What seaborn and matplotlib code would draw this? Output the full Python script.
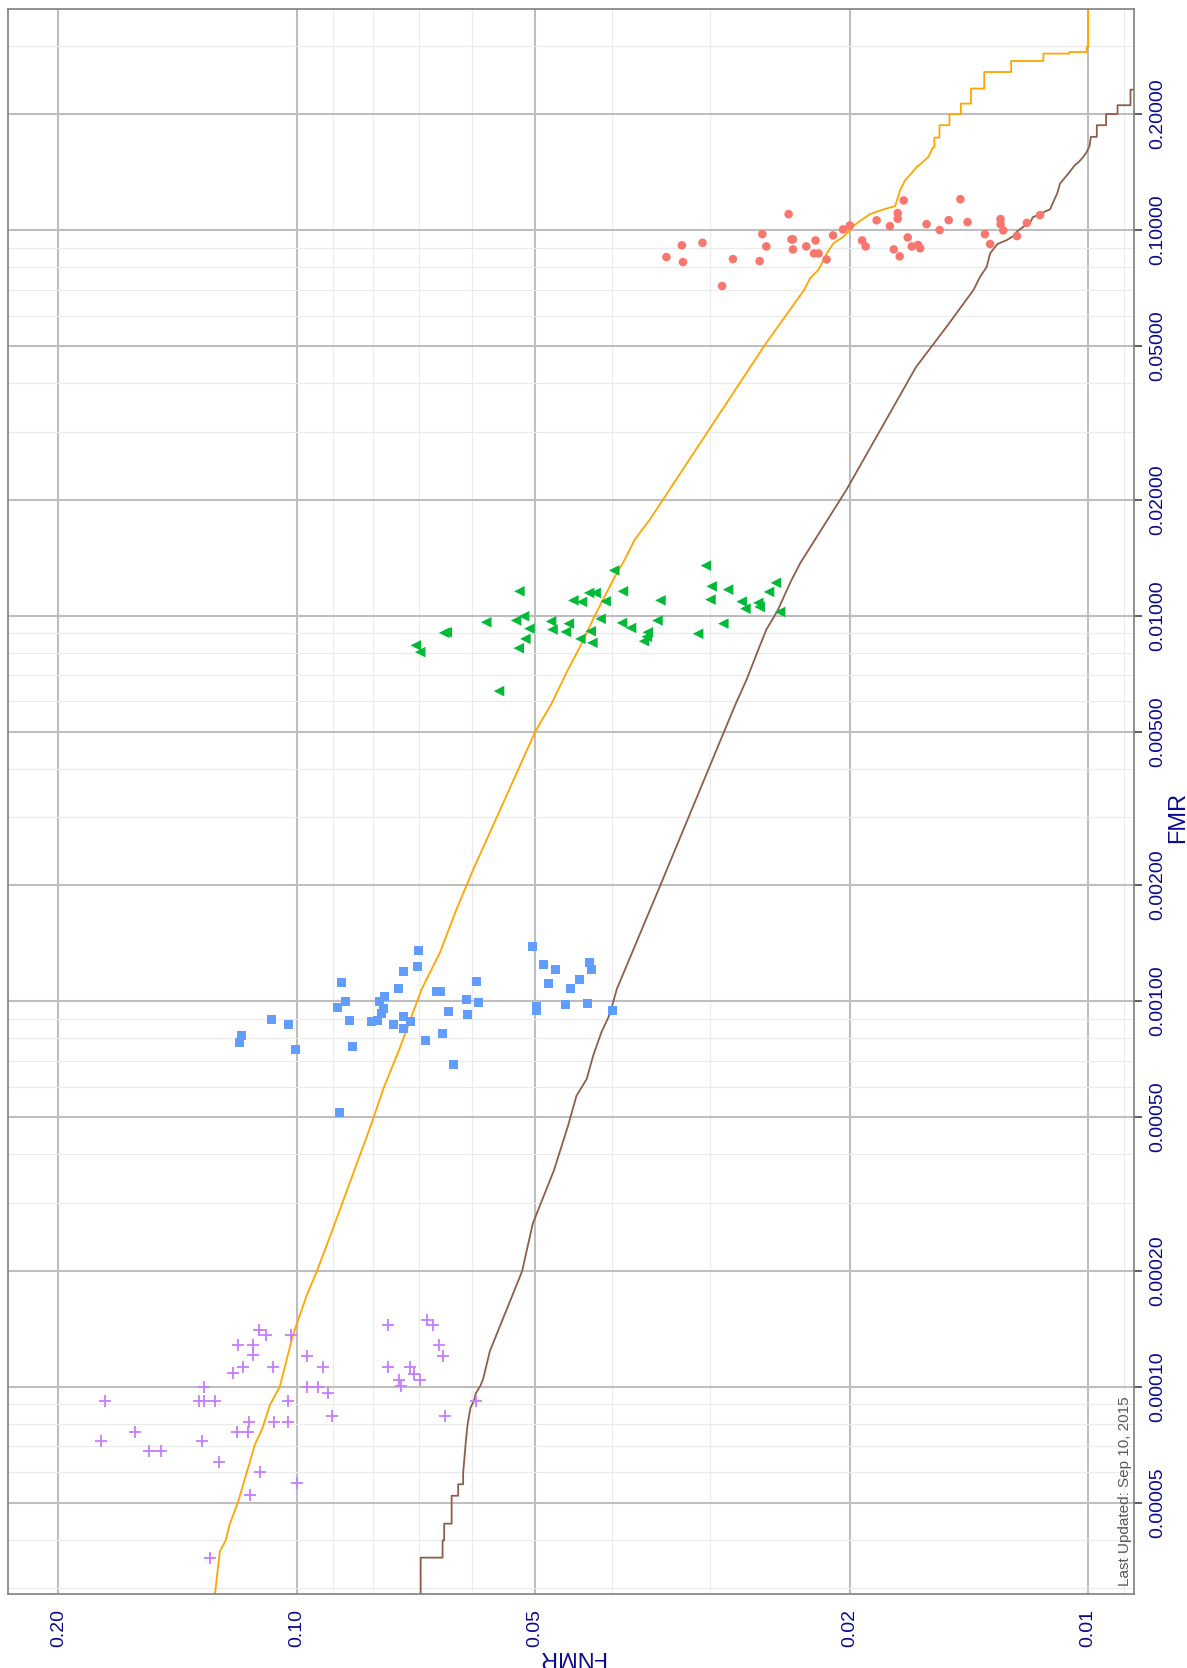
import pandas as pd
import numpy as np
import matplotlib
matplotlib.use("Agg")
import matplotlib.pyplot as plt
import seaborn as sns
from matplotlib.ticker import NullFormatter

# ==============================================================================
# DATA
# ==============================================================================
red_fnmr = [0.0341, 0.0326, 0.0325, 0.0307, 0.0290, 0.0281, 0.0260, 0.0258, 0.0255, 0.0239,
            0.0237, 0.0236, 0.0236, 0.0227, 0.0221, 0.0222, 0.0219, 0.0214, 0.0210, 0.0204,
            0.0200, 0.0193, 0.0191, 0.0185, 0.0178, 0.0176, 0.0174, 0.0174, 0.0171, 0.0173,
            0.0169, 0.0167, 0.0164, 0.0163, 0.0160, 0.0154, 0.0150, 0.0145, 0.0142, 0.0135,
            0.0133, 0.0129, 0.0129, 0.0128, 0.0123, 0.0115, 0.01195]
red_fmr = [0.0851, 0.0913, 0.0826, 0.0927, 0.0716, 0.0841, 0.0831, 0.0976, 0.0907, 0.110,
           0.0946, 0.0946, 0.0891, 0.0907, 0.0940, 0.0870, 0.0870, 0.0839, 0.0969, 0.1004,
           0.1028, 0.0940, 0.0907, 0.106, 0.1024, 0.0891, 0.1107, 0.107, 0.1194, 0.0855,
           0.0957, 0.0907, 0.0915, 0.0897, 0.1036, 0.1000, 0.1061, 0.1203, 0.1049, 0.0976,
           0.0920, 0.1068, 0.1036, 0.0998, 0.0965, 0.1094, 0.1044]

green_fnmr = [0.0576, 0.0528, 0.0516, 0.0523, 0.0508, 0.0514, 0.0524, 0.0555, 0.0477, 0.0475,
              0.0457, 0.0453, 0.0447, 0.0436, 0.0427, 0.0419, 0.0407, 0.0397, 0.0387, 0.0413,
              0.0425, 0.0438, 0.0423, 0.0388, 0.0378, 0.0360, 0.0361, 0.0364, 0.0350, 0.0347,
              0.0311, 0.0304, 0.0299, 0.0300, 0.0285, 0.0289, 0.0274, 0.0271, 0.0261, 0.0260,
              0.0253, 0.0248, 0.0245, 0.0707, 0.0698, 0.0651, 0.0646]
green_fmr = [0.00961, 0.00971, 0.00996, 0.01156, 0.00925, 0.00870, 0.00823, 0.00637, 0.00966, 0.00920,
             0.00907, 0.00953, 0.01095, 0.01085, 0.01145, 0.01145, 0.01089, 0.01310, 0.01156, 0.00981,
             0.00911, 0.00870, 0.00850, 0.00957, 0.00929, 0.00905, 0.00881, 0.00858, 0.00971, 0.01095,
             0.00897, 0.01348, 0.01191, 0.01100, 0.01168, 0.00953, 0.01087, 0.01042, 0.01079, 0.01053,
             0.01152, 0.01216, 0.01022, 0.00837, 0.00804, 0.00902, 0.00905]

blue_fnmr = [0.1181, 0.1175, 0.1076, 0.1024, 0.1004, 0.0878, 0.0868, 0.0887, 0.0858, 0.0851,
             0.0804, 0.0791, 0.0786, 0.0775, 0.0777, 0.0782, 0.0755, 0.0744, 0.0733, 0.0733,
             0.0733, 0.0718, 0.0704, 0.0702, 0.0688, 0.0665, 0.0658, 0.0643, 0.0654, 0.0610,
             0.0609, 0.0593, 0.0589, 0.0504, 0.0488, 0.0498, 0.0498, 0.0481, 0.0471, 0.0458,
             0.0451, 0.0439, 0.0429, 0.0427, 0.0424, 0.0399, 0.0883, 0.0634]
blue_fmr = [0.000782, 0.000815, 0.000897, 0.000872, 0.000750, 0.001118, 0.000998, 0.000963, 0.000891, 0.000763,
            0.000886, 0.000891, 0.000998, 0.001028, 0.000957, 0.000929, 0.000872, 0.001079, 0.001194, 0.000914,
            0.000850, 0.000886, 0.001230, 0.001353, 0.000791, 0.001059, 0.001059, 0.000940, 0.000825, 0.001010,
            0.000924, 0.001125, 0.000992, 0.001386, 0.001245, 0.000969, 0.000946, 0.001111, 0.001208, 0.000981,
            0.001079, 0.001138, 0.000986, 0.001260, 0.001210, 0.000948, 0.000515, 0.000683]

purple_fnmr = [0.1746, 0.1327, 0.1308, 0.1308, 0.1267, 0.1204, 0.1170, 0.1185, 0.1136, 0.1134,
               0.1115, 0.1093, 0.1072, 0.1017, 0.1026, 0.1148, 0.1067, 0.1026, 0.0969, 0.0969,
               0.0941, 0.0926, 0.0912, 0.0903, 0.0767, 0.0767, 0.0742, 0.0739, 0.0719, 0.0710,
               0.0698, 0.0685, 0.0672, 0.0660, 0.0654, 0.0649, 0.1602, 0.1765, 0.1538, 0.1485,
               0.1317, 0.1254, 0.1191, 0.1152, 0.1112, 0.1145, 0.1000, 0.1288, 0.0594]
purple_fmr = [9.20e-5, 9.20e-5, 9.20e-5, 1.00e-4, 9.20e-5, 1.083e-4, 1.122e-4, 1.279e-4, 1.279e-4, 1.205e-4,
              1.405e-4, 1.358e-4, 1.122e-4, 1.358e-4, 9.20e-5, 8.07e-5, 8.07e-5, 8.07e-5, 1.203e-4, 1.00e-4,
              1.00e-4, 1.122e-4, 9.61e-5, 8.40e-5, 1.442e-4, 1.122e-4, 1.038e-4, 1.004e-4, 1.122e-4, 1.079e-4,
              1.038e-4, 1.486e-4, 1.442e-4, 1.279e-4, 1.203e-4, 8.40e-5, 7.61e-5, 7.22e-5, 6.81e-5, 6.81e-5,
              7.22e-5, 6.39e-5, 7.61e-5, 7.61e-5, 5.99e-5, 5.22e-5, 5.61e-5, 3.59e-5, 9.20e-5]

# DET curves (vertices)
orange_fnmr = [0.1270, 0.1250, 0.1229, 0.1215, 0.1186, 0.1162, 0.1147, 0.1130, 0.1105, 0.1081,
               0.1050, 0.1011, 0.0971, 0.0942, 0.0900, 0.0806, 0.0777, 0.0740, 0.0695, 0.0659,
               0.0628, 0.0598, 0.0499, 0.0477, 0.0454, 0.0438, 0.0420, 0.0398, 0.0385, 0.0374,
               0.0358, 0.0256, 0.02285, 0.02245, 0.02192, 0.02170, 0.02139, 0.02098, 0.02038, 0.02003,
               0.01980, 0.01941, 0.01886, 0.01835, 0.01796, 0.01753, 0.01728, 0.01703, 0.01670, 0.01646,
               0.01622, 0.01591, 0.01571, 0.01564, 0.01564, 0.01541, 0.01541, 0.01497, 0.01497, 0.01448,
               0.01448, 0.01406, 0.01406, 0.01353, 0.01353, 0.01251, 0.01251, 0.01139, 0.01139, 0.01056,
               0.01056, 0.01004, 0.01004, 0.0100, 0.0100]
orange_fmr = [2.82e-5, 3.74e-5, 3.99e-5, 4.39e-5, 5.01e-5, 5.78e-5, 6.32e-5, 7.05e-5, 7.78e-5, 8.95e-5,
              1.0e-4, 1.358e-4, 1.724e-4, 2.0e-4, 2.566e-4, 4.75e-4, 5.92e-4, 7.59e-4, 1.074e-3, 1.337e-3,
              1.731e-3, 2.198e-3, 5.02e-3, 5.88e-3, 7.25e-3, 8.33e-3, 0.0100, 0.0124, 0.01397, 0.01573,
              0.01773, 0.0504, 0.0699, 0.0750, 0.0788, 0.0820, 0.0870, 0.0924, 0.0961, 0.0996,
              0.1024, 0.1057, 0.1100, 0.1122, 0.1138, 0.1154, 0.1269, 0.1347, 0.1407, 0.1459,
              0.1494, 0.1549, 0.1638, 0.1638, 0.1738, 0.1738, 0.1871, 0.1871, 0.1998, 0.1998,
              0.2129, 0.2129, 0.2329, 0.2329, 0.2571, 0.2571, 0.2746, 0.2746, 0.2870, 0.2870,
              0.2897, 0.2897, 0.2985, 0.2985, 1.0]

brown_fnmr = [0.0697, 0.0697, 0.0654, 0.0654, 0.0651, 0.0651, 0.0637, 0.0637, 0.0625, 0.0625,
              0.0616, 0.0616, 0.0614, 0.0611, 0.0608, 0.0603, 0.0597, 0.0594, 0.0586, 0.0581,
              0.0570, 0.0519, 0.0503, 0.0473, 0.0454, 0.0443, 0.0430, 0.0422, 0.0412, 0.0402,
              0.0394, 0.0347, 0.0293, 0.0279, 0.0270, 0.0262, 0.0255, 0.0247, 0.0238, 0.0231,
              0.0222, 0.0202, 0.0165, 0.01503, 0.01396, 0.01369, 0.01343, 0.01330, 0.01302, 0.01267,
              0.01243, 0.01231, 0.01207, 0.01182, 0.01175, 0.01139, 0.01117, 0.01108, 0.01094, 0.01085,
              0.01059, 0.01041, 0.01025, 0.01014, 0.01004, 0.00996, 0.00992, 0.00975, 0.00975, 0.00949,
              0.00949, 0.00918, 0.00918, 0.00884, 0.00884, 0.00860]
brown_fmr = [2.82e-5, 3.60e-5, 3.60e-5, 3.99e-5, 3.99e-5, 4.41e-5, 4.41e-5, 5.21e-5, 5.21e-5, 5.58e-5,
             5.58e-5, 5.98e-5, 6.45e-5, 7.27e-5, 8.0e-5, 8.81e-5, 9.18e-5, 9.59e-5, 1.004e-4, 1.049e-4,
             1.235e-4, 1.99e-4, 2.65e-4, 3.64e-4, 4.75e-4, 5.68e-4, 6.28e-4, 7.22e-4, 8.30e-4, 9.25e-4,
             1.074e-3, 2.0e-3, 4.62e-3, 5.88e-3, 6.83e-3, 8.0e-3, 9.2e-3, 0.01026, 0.01215, 0.01369,
             0.01558, 0.0212, 0.0441, 0.0568, 0.0699, 0.0757, 0.0803, 0.0870, 0.0920, 0.0942,
             0.0965, 0.0990, 0.1020, 0.1051, 0.1079, 0.1112, 0.1132, 0.1177, 0.1245, 0.1321,
             0.1402, 0.1468, 0.1510, 0.1549, 0.1595, 0.1651, 0.1745, 0.1745, 0.1871, 0.1871,
             0.2000, 0.2000, 0.2108, 0.2108, 0.2314, 0.2314]

fnmr_ticks = [0.2, 0.1, 0.05, 0.02, 0.01]
fnmr_labels = ["0.20", "0.10", "0.05", "0.02", "0.01"]
fmr_ticks = [0.00005, 0.0001, 0.0002, 0.0005, 0.001, 0.002, 0.005, 0.01, 0.02, 0.05, 0.1, 0.2]
fmr_labels = ["0.00005", "0.00010", "0.00020", "0.00050", "0.00100", "0.00200",
              "0.00500", "0.01000", "0.02000", "0.05000", "0.10000", "0.20000"]

# ==============================================================================
# PLOT (drawn already turned a quarter turn: FNMR runs right-to-left, FMR upward)
# ==============================================================================
sns.set_style("white")
plt.rcParams['font.family'] = ['Liberation Sans', 'DejaVu Sans']

blue_txt = '#0A0A8C'

fig = plt.figure(figsize=(11.87, 16.68), dpi=100)
ax = fig.add_axes([0.00716, 0.04436, 0.9482, 0.9505])
ax.set_xscale('log')
ax.set_yscale('log')

sns.lineplot(x=orange_fnmr, y=orange_fmr, sort=False, estimator=None,
             color='#FFA500', lw=1.3, ax=ax, zorder=2)
sns.lineplot(x=brown_fnmr, y=brown_fmr, sort=False, estimator=None,
             color='#8F5E4A', lw=1.3, ax=ax, zorder=2)

grupos = [
    (red_fnmr, red_fmr, '#F8766D', 'o', 38),
    (green_fnmr, green_fmr, '#00BA38', '<', 58),
    (blue_fnmr, blue_fmr, '#619CFF', 's', 42),
]
for fx, fy, col, mk, sz in grupos:
    sns.scatterplot(x=fx, y=fy, color=col, marker=mk, s=sz, edgecolor='none',
                    linewidth=0, ax=ax, zorder=3)
sns.scatterplot(x=purple_fnmr, y=purple_fmr, color='#C77CFF', marker='+', s=85,
                linewidth=1.3, ax=ax, zorder=3)

# ticks & grid
ax.set_xticks(fnmr_ticks, labels=fnmr_labels, rotation=90)
ax.set_xticks([m * 10.0 ** k for k in (-3, -2) for m in (3, 4, 6, 7, 8, 9)], minor=True)
ax.xaxis.set_minor_formatter(NullFormatter())
ax.yaxis.tick_right()
ax.set_yticks(fmr_ticks, labels=fmr_labels, rotation=90, va='center')
ax.set_yticks([m * 10.0 ** k for k in range(-5, 0) for m in (3, 4, 6, 7, 8, 9)], minor=True)
ax.yaxis.set_minor_formatter(NullFormatter())
ax.set_ylim(2.897e-5, 0.3755)
ax.set_xlim(0.2312, 0.00875)

ax.tick_params(which='minor', length=0)
ax.tick_params(which='major', length=6, width=1.1, color='#333333',
               labelcolor=blue_txt, labelsize=14, pad=5)
ax.tick_params(axis='y', left=False, right=True)

ax.grid(True, which='major', color='#BEBEBE', lw=1.5)
ax.grid(True, which='minor', color='#EBEBEB', lw=0.8)
ax.set_axisbelow(True)
for sp in ax.spines.values():
    sp.set_color('#7F7F7F')
    sp.set_linewidth(1.2)

ax.set_xlabel('FNMR', rotation=180, fontsize=17, color=blue_txt, ha='center', va='center')
ax.xaxis.set_label_coords(0.5, -0.0395)
ax.set_ylabel('FMR', rotation=90, fontsize=17, color=blue_txt)
ax.yaxis.set_label_position('right')
ax.yaxis.label.set_va('center')
ax.yaxis.label.set_ha('center')
ax.yaxis.set_label_coords(1.039, 0.49)

ax.text(0.998, 0.005, 'Last Updated: Sep 10, 2015', rotation=90, ha='right', va='bottom',
        transform=ax.transAxes, fontsize=11, color='#595959')

fig.savefig('out.png', dpi=100)
plt.close(fig)
